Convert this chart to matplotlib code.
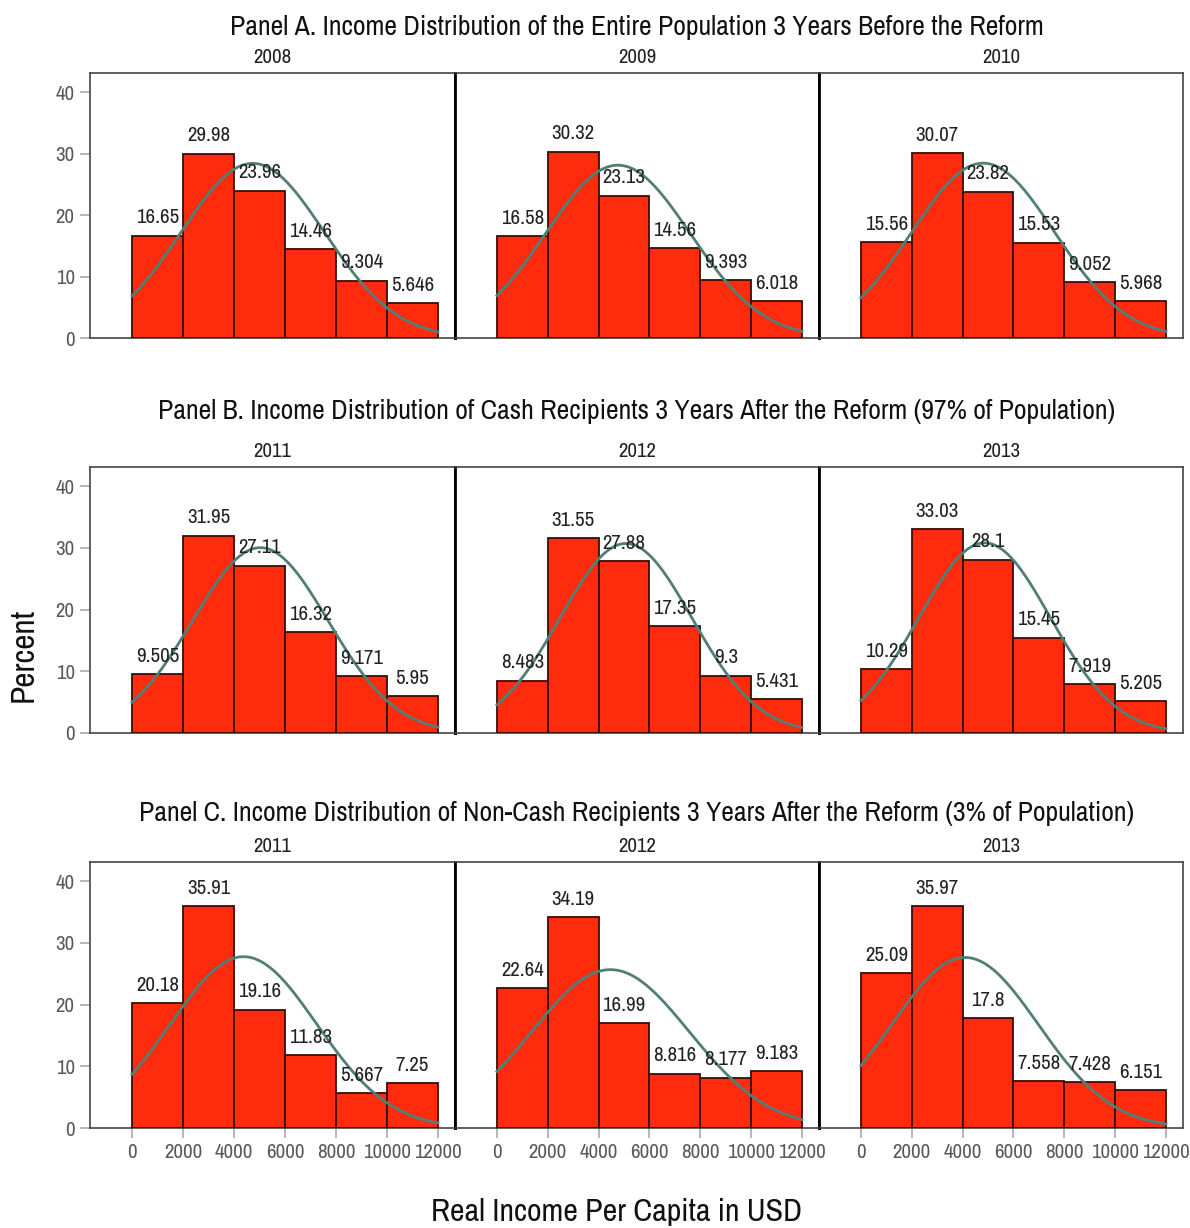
"""Income distribution histograms before/after the reform, 3x3 panel grid."""

import matplotlib
matplotlib.use("Agg")
import matplotlib.pyplot as plt
import numpy as np

plt.rcParams["font.family"] = ["Archivo Narrow", "DejaVu Sans"]

OUT = "out.png"

# bin edges shared by every histogram (USD)
BIN_EDGES = [0, 2000, 4000, 6000, 8000, 10000, 12000]
X_TICKS = [0, 2000, 4000, 6000, 8000, 10000, 12000]
Y_TICKS = [0, 10, 20, 30, 40]

ROW_TITLES = [
    "Panel A. Income Distribution of the Entire Population 3 Years Before the Reform",
    "Panel B. Income Distribution of Cash Recipients 3 Years After the Reform (97% of Population)",
    "Panel C. Income Distribution of Non-Cash Recipients 3 Years After the Reform (3% of Population)",
]
ROW_YEARS = [
    ["2008", "2009", "2010"],
    ["2011", "2012", "2013"],
    ["2011", "2012", "2013"],
]

# percent of population in each income bin
pct_a_2008 = [16.65, 29.98, 23.96, 14.46, 9.304, 5.646]
pct_a_2009 = [16.58, 30.32, 23.13, 14.56, 9.393, 6.018]
pct_a_2010 = [15.56, 30.07, 23.82, 15.53, 9.052, 5.968]
pct_b_2011 = [9.505, 31.95, 27.11, 16.32, 9.171, 5.95]
pct_b_2012 = [8.483, 31.55, 27.88, 17.35, 9.3, 5.431]
pct_b_2013 = [10.29, 33.03, 28.1, 15.45, 7.919, 5.205]
pct_c_2011 = [20.18, 35.91, 19.16, 11.83, 5.667, 7.25]
pct_c_2012 = [22.64, 34.19, 16.99, 8.816, 8.177, 9.183]
pct_c_2013 = [25.09, 35.97, 17.8, 7.558, 7.428, 6.151]

ROW_DATA = [
    [pct_a_2008, pct_a_2009, pct_a_2010],
    [pct_b_2011, pct_b_2012, pct_b_2013],
    [pct_c_2011, pct_c_2012, pct_c_2013],
]

BAR_COLOR = "#FF2B0C"
EDGE_COLOR = "#3A0C04"
CURVE_COLOR = "#4F7F77"
TICK_TEXT = "#595959"
FRAME = "#444444"

# pixel layout of the reference (1190 x 1228)
W, H = 1190, 1228
COL_X = [90, 455, 819, 1183]
ROW_Y = [(73, 338), (467, 733), (862, 1128)]
TITLE_Y = [28, 411, 814]


def normal_overlay(ax, pct):
    """Normal curve with the binned mean/sd, scaled to percent per bin."""
    edges = np.array(BIN_EDGES, dtype=float)
    mids = (edges[:-1] + edges[1:]) / 2
    w = np.array(pct) / np.sum(pct)
    mean = np.sum(w * mids)
    sd = np.sqrt(np.sum(w * (mids - mean) ** 2))
    width = edges[1] - edges[0]
    xs = np.linspace(edges[0], edges[-1], 300)
    ys = 100 * width * np.exp(-0.5 * ((xs - mean) / sd) ** 2) / (sd * np.sqrt(2 * np.pi))
    ax.plot(xs, ys, color=CURVE_COLOR, lw=2.0, zorder=4)


def main() -> None:
    fig = plt.figure(figsize=(W / 100, H / 100), dpi=100)

    for r in range(3):
        top, bot = ROW_Y[r]
        for c in range(3):
            left = COL_X[c]
            right = COL_X[c + 1]
            ax = fig.add_axes([left / W, 1 - bot / H, (right - left) / W, (bot - top) / H])
            pct = ROW_DATA[r][c]
            edges = BIN_EDGES
            widths = np.diff(edges)
            bars = ax.bar(edges[:-1], pct, width=widths, align="edge",
                          color=BAR_COLOR, edgecolor=EDGE_COLOR, lw=1.3, zorder=3)
            for b, v in zip(bars, pct):
                ax.annotate(f"{v:g}", (b.get_x() + b.get_width() / 2, b.get_height()),
                            xytext=(0, 6), textcoords="offset points",
                            ha="center", va="bottom", fontsize=15, color="#222222",
                            zorder=5)
            normal_overlay(ax, pct)

            ax.set_xlim(-1650, 12670)
            ax.set_ylim(0, 43.1)
            ax.set_title(ROW_YEARS[r][c], fontsize=15, pad=7, color="#222222")

            for side in ("top", "bottom", "left", "right"):
                ax.spines[side].set_color(FRAME)
                ax.spines[side].set_linewidth(1.2)
            if c > 0:
                ax.spines["left"].set_color("black")
                ax.spines["left"].set_linewidth(2.0)
            if c < 2:
                ax.spines["right"].set_color("black")
                ax.spines["right"].set_linewidth(2.0)

            ax.tick_params(colors="#AAAAAA", labelcolor=TICK_TEXT, length=7,
                           width=1.2, labelsize=15, pad=4)
            if c == 0:
                ax.set_yticks(Y_TICKS)
            else:
                ax.set_yticks([])
            if r == 2:
                ax.set_xticks(X_TICKS)
                ax.set_xticklabels([str(t) for t in X_TICKS])
            else:
                ax.set_xticks([])

        fig.text(0.5 * (COL_X[0] + COL_X[-1]) / W, 1 - TITLE_Y[r] / H, ROW_TITLES[r],
                 ha="center", va="center", fontsize=20, color="#111111")

    fig.text(24 / W, 1 - 655 / H, "Percent", rotation=90, ha="center", va="center",
             fontsize=24, color="#111111")
    fig.text(617 / W, 1 - 1212 / H, "Real Income Per Capita in USD", ha="center",
             va="center", fontsize=23, color="#111111")

    fig.savefig(OUT, dpi=100)
    plt.close(fig)


if __name__ == "__main__":
    main()
